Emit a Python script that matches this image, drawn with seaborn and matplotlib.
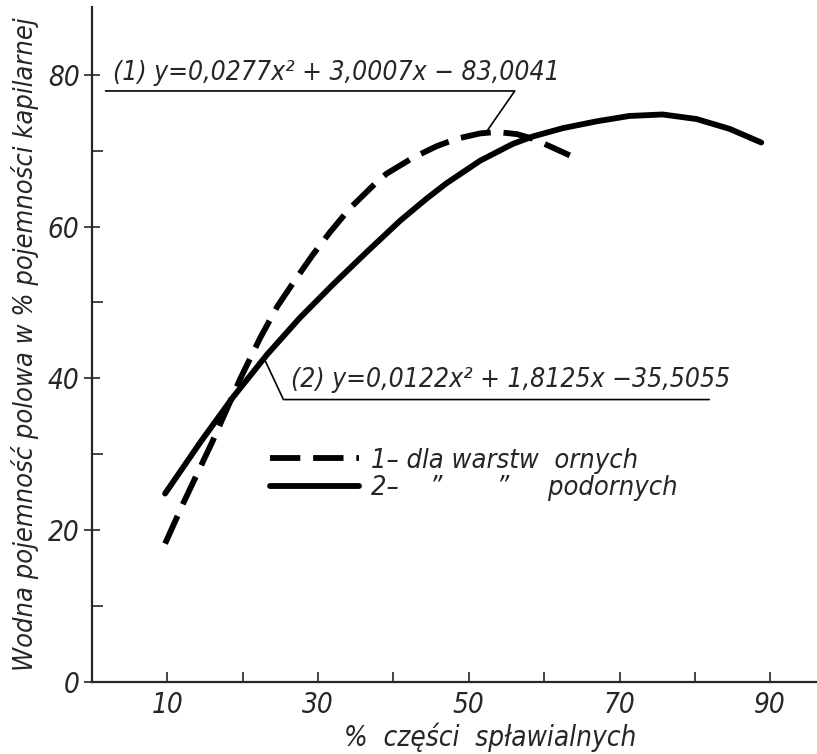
import pandas as pd
import matplotlib
matplotlib.use("Agg")
import matplotlib.pyplot as plt
from matplotlib.lines import Line2D
import seaborn as sns

# values
x_orne = [9.7, 12.1, 16.0, 19.7, 22.3, 24.6, 26.7, 29.3, 31.6, 34.2, 37.8, 39.1, 42.6, 45.7,
          48.4, 51.5, 53.7, 56.4, 58.5, 61.2, 63.4]
y_orne = [18.2, 23.5, 31.7, 40.0, 45.3, 49.5, 52.6, 56.3, 59.3, 62.4, 65.9, 67.0, 69.1, 70.6,
          71.6, 72.3, 72.5, 72.2, 71.6, 70.4, 69.4]
x_podorne = [9.7, 14.4, 18.7, 23.2, 27.6, 32.0, 36.5, 40.9, 44.4, 47.0, 51.5, 55.8, 58.5, 62.5,
             67.0, 71.3, 75.7, 80.2, 84.6, 88.8]
y_podorne = [24.8, 31.6, 37.5, 43.1, 48.0, 52.4, 56.7, 60.8, 63.7, 65.7, 68.7, 70.9, 71.9, 73.0,
             73.9, 74.6, 74.8, 74.2, 72.9, 71.1]

eq_1 = "(1) y=0,0277x\u00b2 + 3,0007x \u2212 83,0041"
eq_2 = "(2) y=0,0122x\u00b2 + 1,8125x \u221235,5055"
lab_1 = "1\u2013 dla warstw  ornych"
lab_2 = "2\u2013    \u201d       \u201d     podornych"

df = pd.concat([
    pd.DataFrame({"x": x_orne, "y": y_orne, "warstwa": "orne"}),
    pd.DataFrame({"x": x_podorne, "y": y_podorne, "warstwa": "podorne"}),
])

sns.set_style("ticks")
plt.rcParams['font.family'] = ['DejaVu Sans']
plt.rcParams['font.style'] = 'italic'
plt.rcParams['font.stretch'] = 'condensed'

fig = plt.figure(figsize=(8.17, 7.54), dpi=100)
ax = fig.add_axes([0.1126, 0.096, 0.8874, 0.895])

dash = (5.2, 2.2)
sns.lineplot(data=df, x="x", y="y", style="warstwa", color="black",
             dashes={"orne": dash, "podorne": ""}, linewidth=4.2,
             estimator=None, sort=False, legend=False, ax=ax)

ax.set_xlim(0, 96.2)
ax.set_ylim(0, 89)
ax.set_xticks([10, 30, 50, 70, 90])
ax.set_xticks([20, 40, 60, 80], minor=True)
ax.set_yticks([0, 20, 40, 60, 80])
ax.set_yticks([10, 30, 50, 70], minor=True)
ax.tick_params(axis="x", which="both", direction="in", length=7, width=1.2, labelsize=20, pad=7)
ax.tick_params(axis="y", which="major", direction="inout", length=12, width=1.2, labelsize=20, pad=3)
ax.tick_params(axis="y", which="minor", direction="in", length=8, width=1.2)
for s in ["top", "right"]:
    ax.spines[s].set_visible(False)
for s in ["left", "bottom"]:
    ax.spines[s].set_linewidth(1.6)

ax.set_xlabel("%  części  spławialnych", fontsize=20)
ax.xaxis.set_label_coords(0.549, -0.061)
ax.set_ylabel("Wodna pojemność polowa w % pojemności kapilarnej", fontsize=19.5, labelpad=6)

# equation callouts: text, underline and leader to the curve
ax.text(2.8, 78.6, eq_1, fontsize=19, ha="left", va="bottom")
ax.plot([1.8, 56.1, 52.4], [77.9, 77.9, 72.6], color="black", lw=1.2)
ax.text(26.4, 38.0, eq_2, fontsize=19, ha="left", va="bottom")
ax.plot([22.9, 25.4, 81.9], [42.5, 37.2, 37.2], color="black", lw=1.2)

handles = [Line2D([], [], color="black", lw=4.2, dashes=dash),
           Line2D([], [], color="black", lw=4.2)]
ax.legend(handles, [lab_1, lab_2], loc="center left", bbox_to_anchor=(21.8, 27.3),
          bbox_transform=ax.transData, frameon=False, fontsize=19.5,
          handlelength=3.3, handletextpad=0.45, labelspacing=0.05, borderpad=0)

fig.savefig("out.png", dpi=100)
